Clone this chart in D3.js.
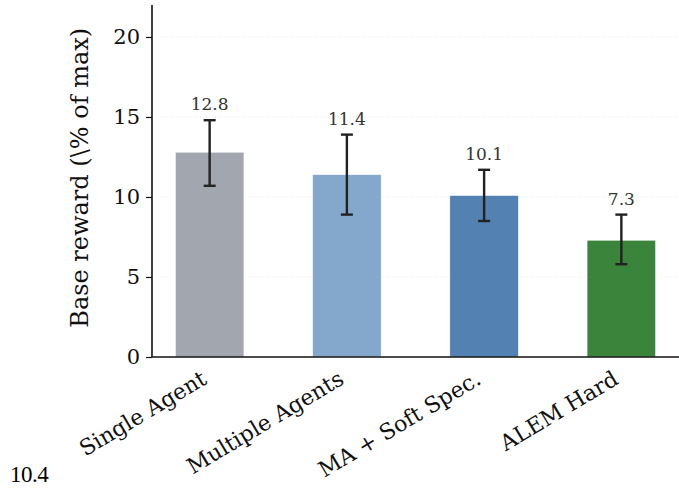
<!DOCTYPE html>
<html lang="en">
<head>
    <meta charset="UTF-8">
    <title>Base reward</title>
    <script src="https://d3js.org/d3.v7.min.js"></script>
    <style>
        body { margin: 0; background: #fff; }
        svg { display: block; }
    </style>
</head>
<body>
<svg id="chart"></svg>

<script>
    const categories = ["Single Agent", "Multiple Agents", "MA + Soft Spec.", "ALEM Hard"];
    const values = [12.8, 11.4, 10.1, 7.3];
    const errLow = [10.7, 8.9, 8.5, 5.8];
    const errHigh = [14.8, 13.9, 11.7, 8.9];
    const colors = ["#a2a6ae", "#84a7cc", "#5281b2", "#3a853b"];
    const yTicks = [0, 5, 10, 15, 20];
    const footNote = "10.4";

    const width = 679, height = 488;
    const margin = {top: 5, right: 0, bottom: 131, left: 152};

    const svg = d3.select("#chart")
        .attr("width", width)
        .attr("height", height);

    const x = d3.scalePoint()
        .domain(categories)
        .range([margin.left, width - margin.right])
        .padding(0.42);
    const barW = x.step() * 0.5;

    const y = d3.scaleLinear()
        .domain([0, 22])
        .range([height - margin.bottom, margin.top]);

    // grid
    svg.append("g")
        .selectAll("line")
        .data(yTicks.filter(d => d > 0))
        .join("line")
        .attr("x1", margin.left)
        .attr("x2", width)
        .attr("y1", d => y(d))
        .attr("y2", d => y(d))
        .attr("stroke", "#e4e4e4")
        .attr("stroke-width", 0.8)
        .attr("stroke-dasharray", "1,2");

    // bars
    svg.append("g")
        .selectAll("rect")
        .data(values)
        .join("rect")
        .attr("x", (d, i) => x(categories[i]) - barW / 2)
        .attr("width", barW)
        .attr("y", d => y(d))
        .attr("height", d => y(0) - y(d))
        .attr("fill", (d, i) => colors[i])
        .attr("stroke", "#fff")
        .attr("stroke-width", 0.6);

    // error bars
    const eb = svg.append("g")
        .attr("stroke", "#222")
        .attr("stroke-width", 2.4);
    categories.forEach(function (c, i) {
        const cx = x(c);
        eb.append("line").attr("x1", cx).attr("x2", cx)
            .attr("y1", y(errLow[i])).attr("y2", y(errHigh[i]));
        eb.append("line").attr("x1", cx - 6).attr("x2", cx + 6)
            .attr("y1", y(errLow[i])).attr("y2", y(errLow[i]));
        eb.append("line").attr("x1", cx - 6).attr("x2", cx + 6)
            .attr("y1", y(errHigh[i])).attr("y2", y(errHigh[i]));
    });

    // value labels
    svg.append("g")
        .selectAll("text")
        .data(values)
        .join("text")
        .attr("x", (d, i) => x(categories[i]))
        .attr("y", (d, i) => y(errHigh[i]) - 10)
        .attr("text-anchor", "middle")
        .attr("font-family", "DejaVu Serif")
        .attr("font-size", 17)
        .attr("fill", "#333")
        .text(d => d.toFixed(1));

    // y axis
    const yAxis = svg.append("g")
        .attr("transform", `translate(${margin.left},0)`)
        .call(d3.axisLeft(y).tickValues(yTicks).tickSize(6).tickPadding(6));
    yAxis.select(".domain").attr("stroke", "#111").attr("stroke-width", 1.6)
        .attr("d", `M0,${y(22)}V${y(0)}`);
    yAxis.selectAll(".tick line").attr("stroke", "#111").attr("stroke-width", 1.2);
    yAxis.selectAll(".tick text")
        .attr("font-family", "DejaVu Serif")
        .attr("font-size", 21)
        .attr("fill", "#111");

    // x axis
    const xAxis = svg.append("g")
        .attr("transform", `translate(0,${y(0)})`)
        .call(d3.axisBottom(x).tickSize(0).tickPadding(0));
    xAxis.select(".domain").attr("stroke", "#111").attr("stroke-width", 1.6)
        .attr("d", `M${margin.left},0H${width}`);
    xAxis.selectAll(".tick text")
        .attr("font-family", "DejaVu Serif")
        .attr("font-size", 22)
        .attr("fill", "#111")
        .attr("text-anchor", "end")
        .attr("dy", 0)
        .attr("transform", "translate(-2,26) rotate(-31)");

    // y label
    svg.append("text")
        .attr("transform", `translate(88,${y(11.2)}) rotate(-90)`)
        .attr("text-anchor", "middle")
        .attr("font-family", "DejaVu Serif")
        .attr("font-size", 24)
        .attr("fill", "#111")
        .text("Base reward (\\% of max)");

    // stray note below the chart
    svg.append("text")
        .attr("x", 10)
        .attr("y", 482)
        .attr("font-family", "Liberation Serif")
        .attr("font-size", 23)
        .attr("letter-spacing", -0.5)
        .attr("fill", "#000")
        .text(footNote);
</script>
</body>
</html>
